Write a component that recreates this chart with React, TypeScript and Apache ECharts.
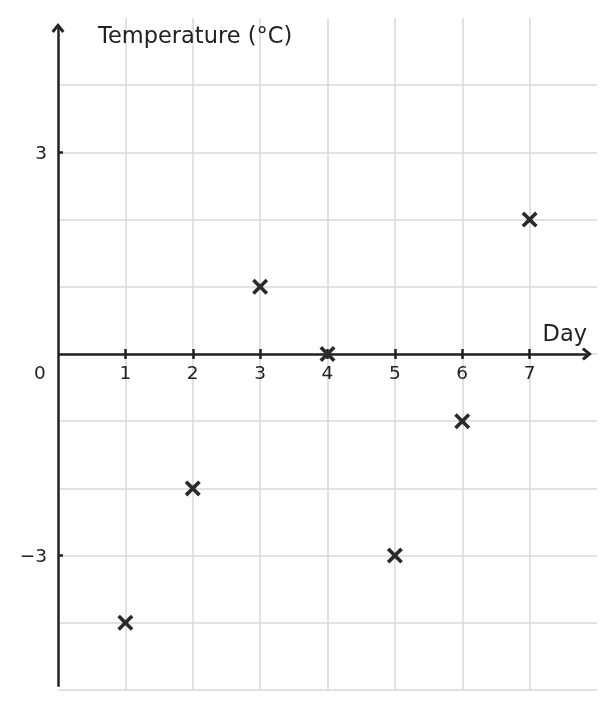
import { useEffect, useRef } from "react";
import * as echarts from "echarts";

const days = [1, 2, 3, 4, 5, 6, 7];
const temps = [-4, -2, 1, 0, -3, -1, 2];
const xTickValues = [1, 2, 3, 4, 5, 6, 7];
const xLabelValues = [0, 1, 2, 3, 4, 5, 6, 7];
const yTickValues = [-3, 3];

const INK = "#222222";
const GRID = "#d9d9d9";
const FONT = "DejaVu Sans";
const NAME_SIZE = 22.5;
const LABEL_SIZE = 18.5;

const CROSS =
  "path://M0,1.6L1.6,0L5,3.4L8.4,0L10,1.6L6.6,5L10,8.4L8.4,10L5,6.6L1.6,10L0,8.4L3.4,5Z";
const CHEVRON = "path://M5,0L10,6L8.2,7.5L5,3.4L1.8,7.5L0,6Z";

// grid is 672px tall for y in [-5, 5]; the zero line sits half way up
const ZERO_OFFSET = -336;

const hiddenLine = { show: true, onZero: false, lineStyle: { color: INK, opacity: 0 } };
const tickStyle = { color: INK, width: 2.5 };

const App = () => {
  const chartRef = useRef<HTMLDivElement>(null);

  useEffect(() => {
    const chart = echarts.init(chartRef.current!, null, { renderer: "svg" });
    chart.setOption({
      animation: false,
      grid: { left: 58, right: 17, top: 18, bottom: 19, outerBoundsMode: "none", containLabel: false },
      xAxis: [
        {
          // grid lines only
          type: "value",
          min: 0,
          max: 8,
          interval: 1,
          position: "bottom",
          axisLine: { show: false, onZero: false },
          axisTick: { show: false },
          axisLabel: { show: false },
          splitLine: {
            show: true,
            showMinLine: false,
            showMaxLine: false,
            lineStyle: { color: GRID, width: 1.5 },
          },
        },
        {
          type: "value",
          min: 0,
          max: 8,
          interval: 1,
          position: "bottom",
          offset: ZERO_OFFSET,
          name: "Day",
          nameLocation: "end",
          nameGap: -10,
          nameTextStyle: {
            color: INK,
            fontFamily: FONT,
            fontSize: NAME_SIZE,
            align: "right",
            verticalAlign: "bottom",
            padding: [0, 0, 10, 0],
          },
          axisLine: hiddenLine,
          axisTick: {
            show: true,
            customValues: xTickValues,
            length: 5,
            lineStyle: tickStyle,
          },
          axisLabel: {
            customValues: xLabelValues,
            color: INK,
            fontFamily: FONT,
            fontSize: LABEL_SIZE,
            margin: 9,
            formatter: (v: number) => (v === 0 ? "{z|0}" : String(v)),
            rich: {
              z: { color: INK, fontFamily: FONT, fontSize: LABEL_SIZE, padding: [0, 36, 0, 0] },
            },
          },
          splitLine: { show: false },
        },
        {
          type: "value",
          min: 0,
          max: 8,
          interval: 1,
          position: "bottom",
          offset: ZERO_OFFSET,
          axisLine: hiddenLine,
          axisTick: {
            show: true,
            inside: true,
            customValues: xTickValues,
            length: 5,
            lineStyle: tickStyle,
          },
          axisLabel: { show: false },
          splitLine: { show: false },
        },
      ],
      yAxis: [
        {
          // grid lines only
          type: "value",
          min: -5,
          max: 5,
          interval: 1,
          position: "left",
          name: "Temperature (°C)",
          nameLocation: "end",
          nameGap: -17,
          nameTextStyle: {
            color: INK,
            fontFamily: FONT,
            fontSize: NAME_SIZE,
            align: "left",
            verticalAlign: "middle",
            padding: [0, 0, 0, 40],
          },
          axisLine: { show: false, onZero: false },
          axisTick: { show: false },
          axisLabel: { show: false },
          splitLine: {
            show: true,
            showMaxLine: false,
            lineStyle: { color: GRID, width: 1.5 },
          },
        },
        {
          type: "value",
          min: -5,
          max: 5,
          interval: 1,
          position: "left",
          axisLine: { show: true, onZero: false, lineStyle: { color: INK, opacity: 0 } },
          axisTick: {
            show: true,
            inside: true,
            customValues: yTickValues,
            length: 5,
            lineStyle: tickStyle,
          },
          axisLabel: {
            customValues: yTickValues,
            color: INK,
            fontFamily: FONT,
            fontSize: LABEL_SIZE,
            margin: 11,
            formatter: (v: number) => (v < 0 ? "\u2212" + Math.abs(v) : String(v)),
          },
          splitLine: { show: false },
        },
      ],
      series: [
        {
          type: "scatter",
          xAxisIndex: 0,
          yAxisIndex: 0,
          data: days.map((d, i) => [d, temps[i]]),
          symbol: CROSS,
          symbolSize: 16,
          itemStyle: { color: "#2a2a2a", opacity: 1 },
          z: 5,
          markLine: {
            silent: true,
            animation: false,
            label: { show: false },
            symbol: ["none", CHEVRON],
            symbolSize: [13, 10],
            lineStyle: { color: INK, width: 2.5, type: "solid", opacity: 1 },
            data: [
              [{ coord: [0, -4.95] }, { coord: [0, 4.85] }],
              [{ coord: [0, 0] }, { coord: [7.85, 0] }],
            ],
          },
        },
      ],
    });
    return () => chart.dispose();
  }, []);

  return (
    <div
      ref={chartRef}
      style={{ position: "fixed", left: 0, top: 0, width: 614, height: 709 }}
    />
  );
};

export default App;
